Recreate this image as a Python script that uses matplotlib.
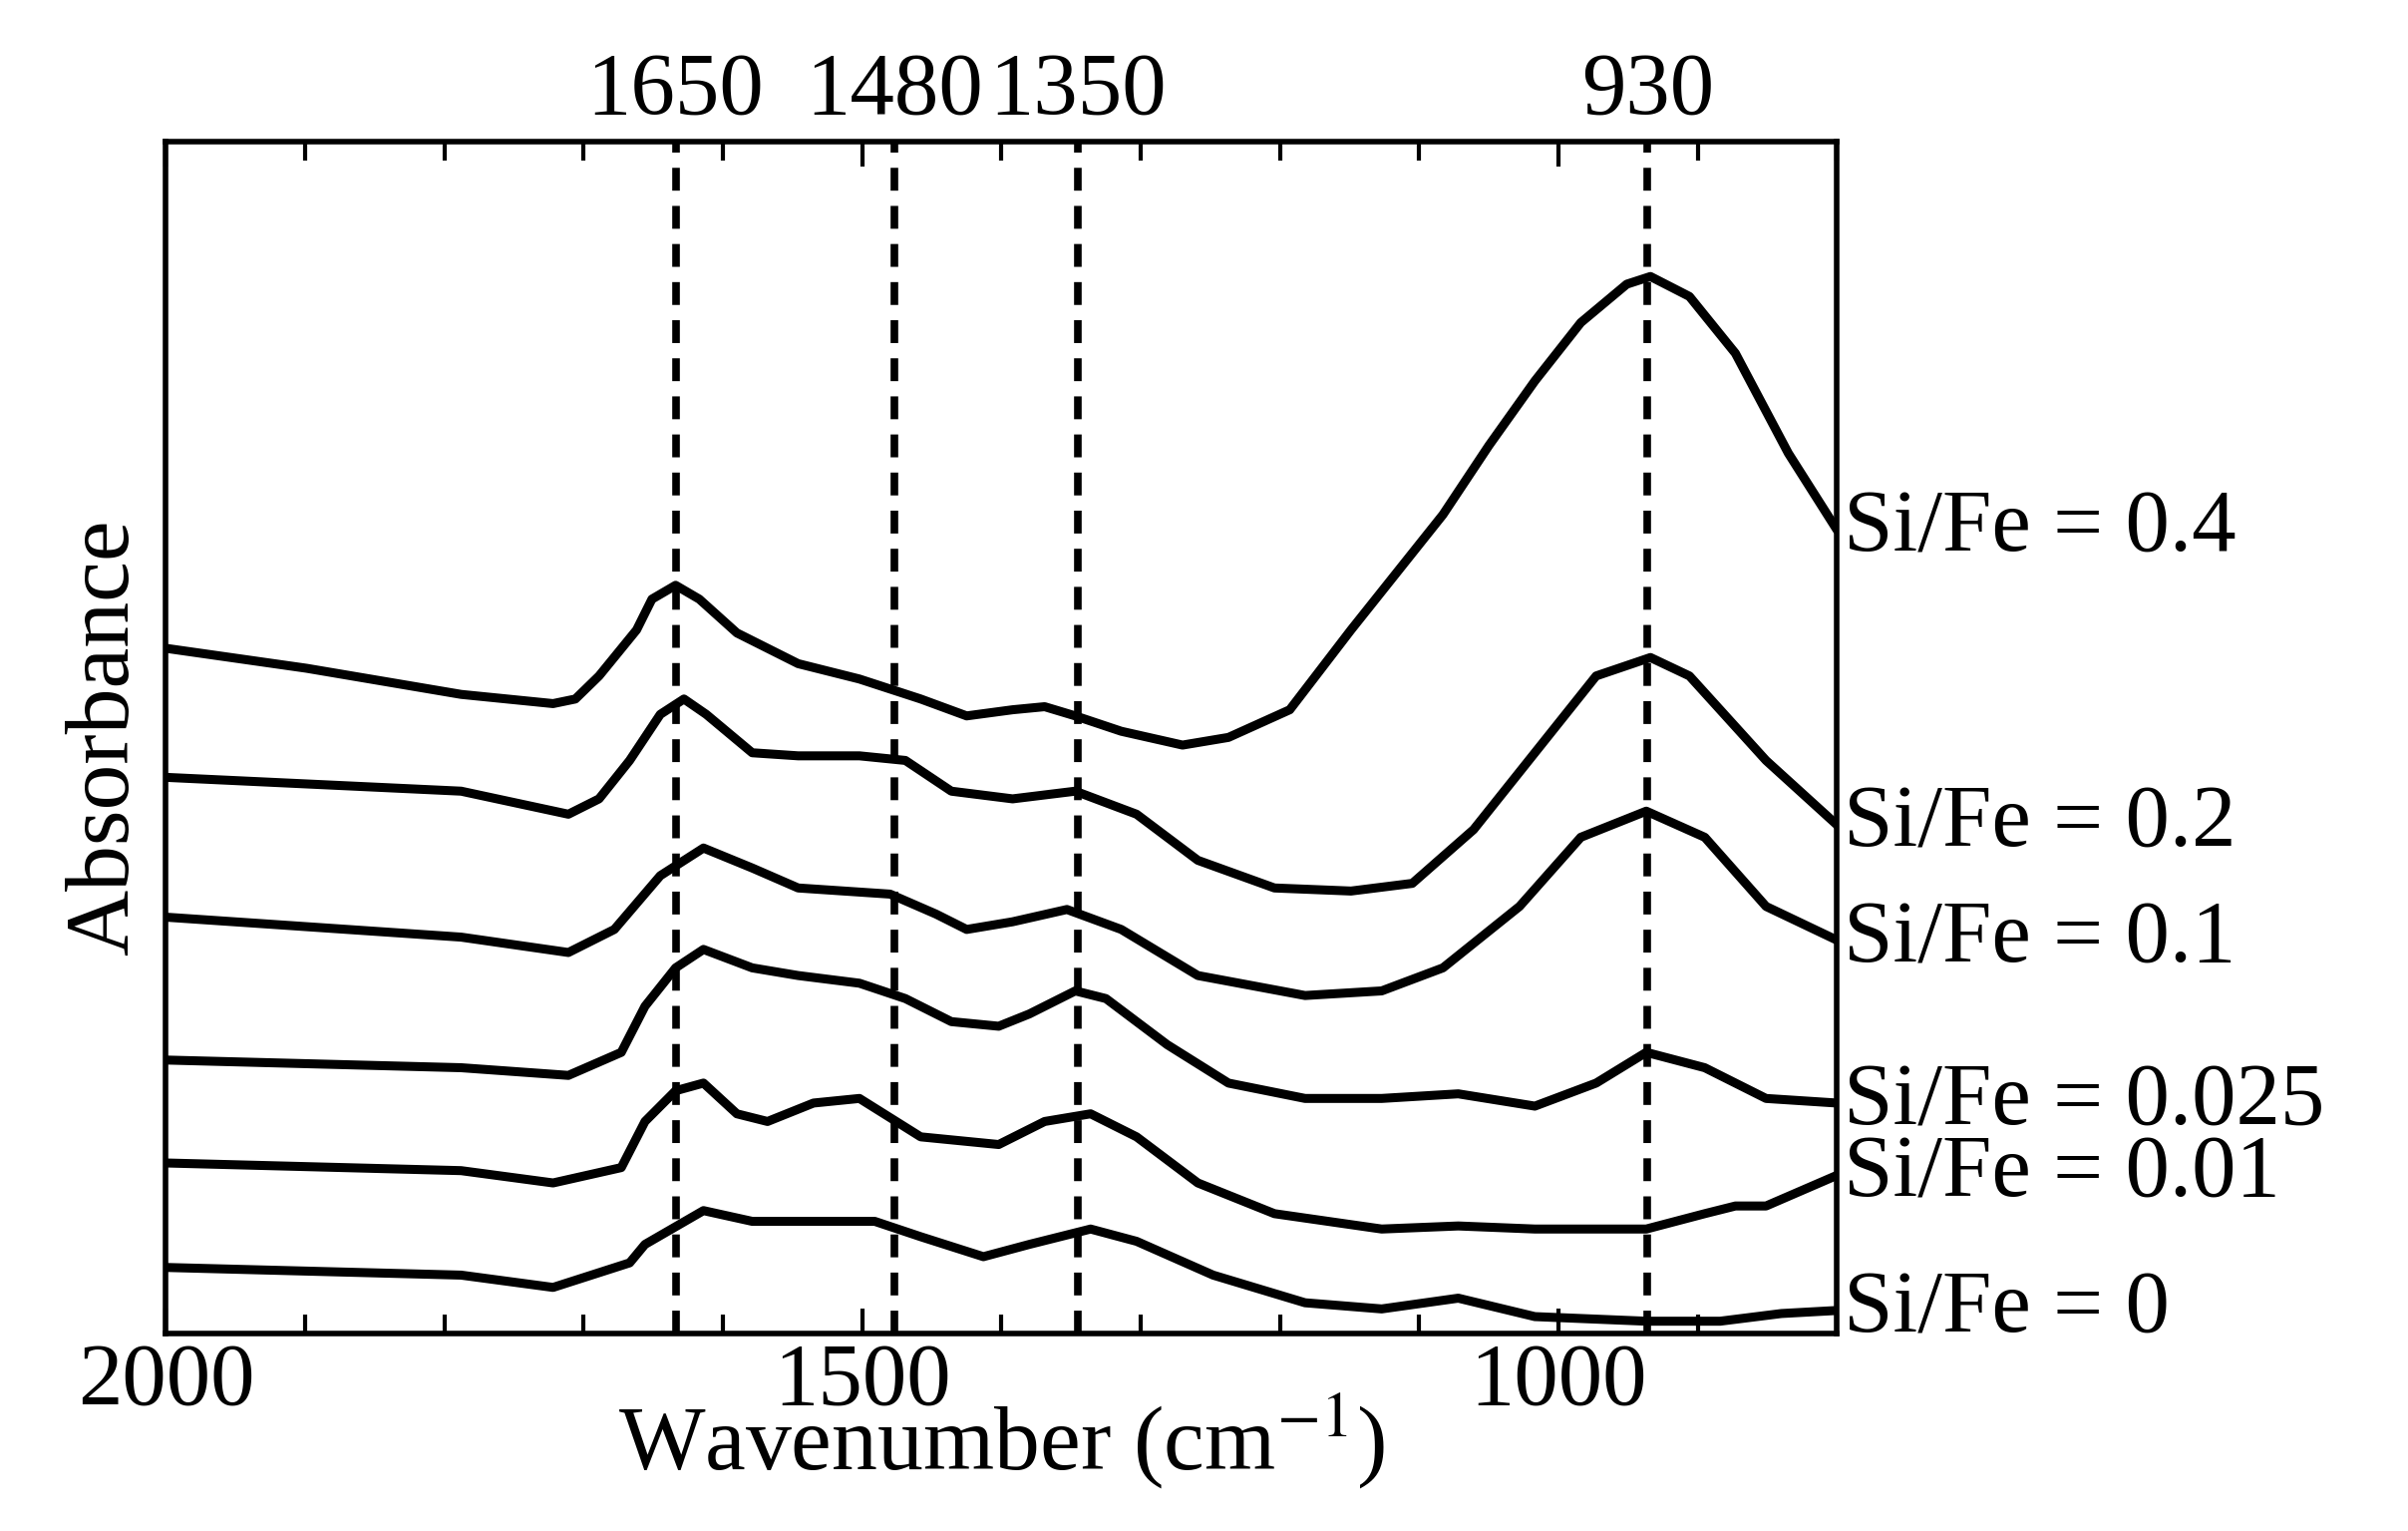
import matplotlib
matplotlib.use("Agg")
import matplotlib.pyplot as plt
from matplotlib.ticker import MultipleLocator

plt.rcParams['font.family'] = ['Liberation Serif', 'DejaVu Serif']
plt.rcParams['mathtext.fontset'] = 'stix'

labels = ["Si/Fe = 0.4", "Si/Fe = 0.2", "Si/Fe = 0.1", "Si/Fe = 0.025", "Si/Fe = 0.01", "Si/Fe = 0"]
peak_positions = [1634, 1477, 1345, 936]
peak_labels = ["1650", "1480", "1350", "930"]

wn_04 = [2000,1899,1788,1722,1706,1689,1662,1651,1634,1617,1590,1546,1502,1458,1425,1392,1369,1347,1314,1270,1237,1193,1149,1127,1083,1050,1017,984,951,934,906,873,835,800]
ab_04 = [446,433,416,410,413,428,458,478,487,478,456,436,426,413,402,406,408,402,392,383,388,406,458,483,533,578,620,658,683,688,675,638,573,523]
wn_02 = [2000,1788,1711,1689,1667,1645,1628,1612,1579,1546,1502,1469,1436,1392,1347,1303,1259,1204,1149,1105,1061,1017,973,934,906,851,800]
ab_02 = [362,353,338,348,373,403,413,403,378,376,376,373,353,348,353,338,308,290,288,293,328,378,428,440,428,373,331]
wn_01 = [2000,1788,1711,1678,1645,1614,1579,1546,1480,1447,1425,1392,1353,1314,1259,1182,1127,1083,1028,984,937,895,851,800]
ab_01 = [271,258,248,263,298,316,303,290,286,273,263,268,276,263,233,220,223,238,278,323,340,323,278,256]
wn_0025 = [2000,1788,1711,1673,1656,1634,1614,1579,1546,1502,1469,1436,1402,1380,1347,1325,1281,1237,1182,1127,1072,1017,973,937,895,851,800]
ab_0025 = [178,173,168,183,213,238,250,238,233,228,218,203,200,208,223,218,188,163,153,153,156,148,163,183,173,153,150]
wn_001 = [2000,1788,1722,1673,1656,1634,1614,1590,1568,1535,1502,1458,1402,1369,1336,1303,1259,1204,1127,1072,1017,937,895,873,851,800]
ab_001 = [111,106,98,108,138,158,163,143,138,150,153,128,123,138,143,128,98,78,68,70,68,68,78,83,83,103]
wn_0 = [2000,1788,1722,1667,1656,1614,1579,1535,1491,1458,1413,1380,1336,1303,1248,1182,1127,1072,1017,937,884,840,800]
ab_0 = [43,38,30,46,58,80,73,73,73,63,50,58,68,60,38,20,16,23,11,8,8,13,15]

series = [(wn_04, ab_04), (wn_02, ab_02), (wn_01, ab_01), (wn_0025, ab_0025), (wn_001, ab_001), (wn_0, ab_0)]

fig = plt.figure(figsize=(24.15, 15.35), dpi=100)
ax = fig.add_axes([0.0689, 0.129, 0.694, 0.7787])
for (w, a), lab in zip(series, labels):
    ax.plot(w, a, color='black', lw=6.5, solid_joinstyle='round', solid_capstyle='round')
    ax.text(795, a[-1], lab, fontsize=64, ha='left', va='center', clip_on=False)

for p, pl in zip(peak_positions, peak_labels):
    ax.axvline(p, color='black', lw=5.5, ls=(0, (3, 2)))
    ax.text(p, 782, pl, fontsize=64, ha='center', va='bottom', clip_on=False)

ax.set_xlim(2000, 800)
ax.set_ylim(0, 776)
ax.set_yticks([])
ax.xaxis.set_major_locator(MultipleLocator(500))
ax.xaxis.set_minor_locator(MultipleLocator(100))
ax.tick_params(axis='x', which='both', direction='in', top=True, bottom=True,
               labelsize=64, width=3, pad=6)
ax.tick_params(axis='x', which='major', length=18)
ax.tick_params(axis='x', which='minor', length=14)
for s in ax.spines.values():
    s.set_linewidth(4)
ax.set_xlabel("Wavenumber (cm$^{-1}$)", fontsize=66, labelpad=-22)
ax.set_ylabel("Absorbance", fontsize=66, labelpad=14)

fig.savefig("out.png", dpi=100)
